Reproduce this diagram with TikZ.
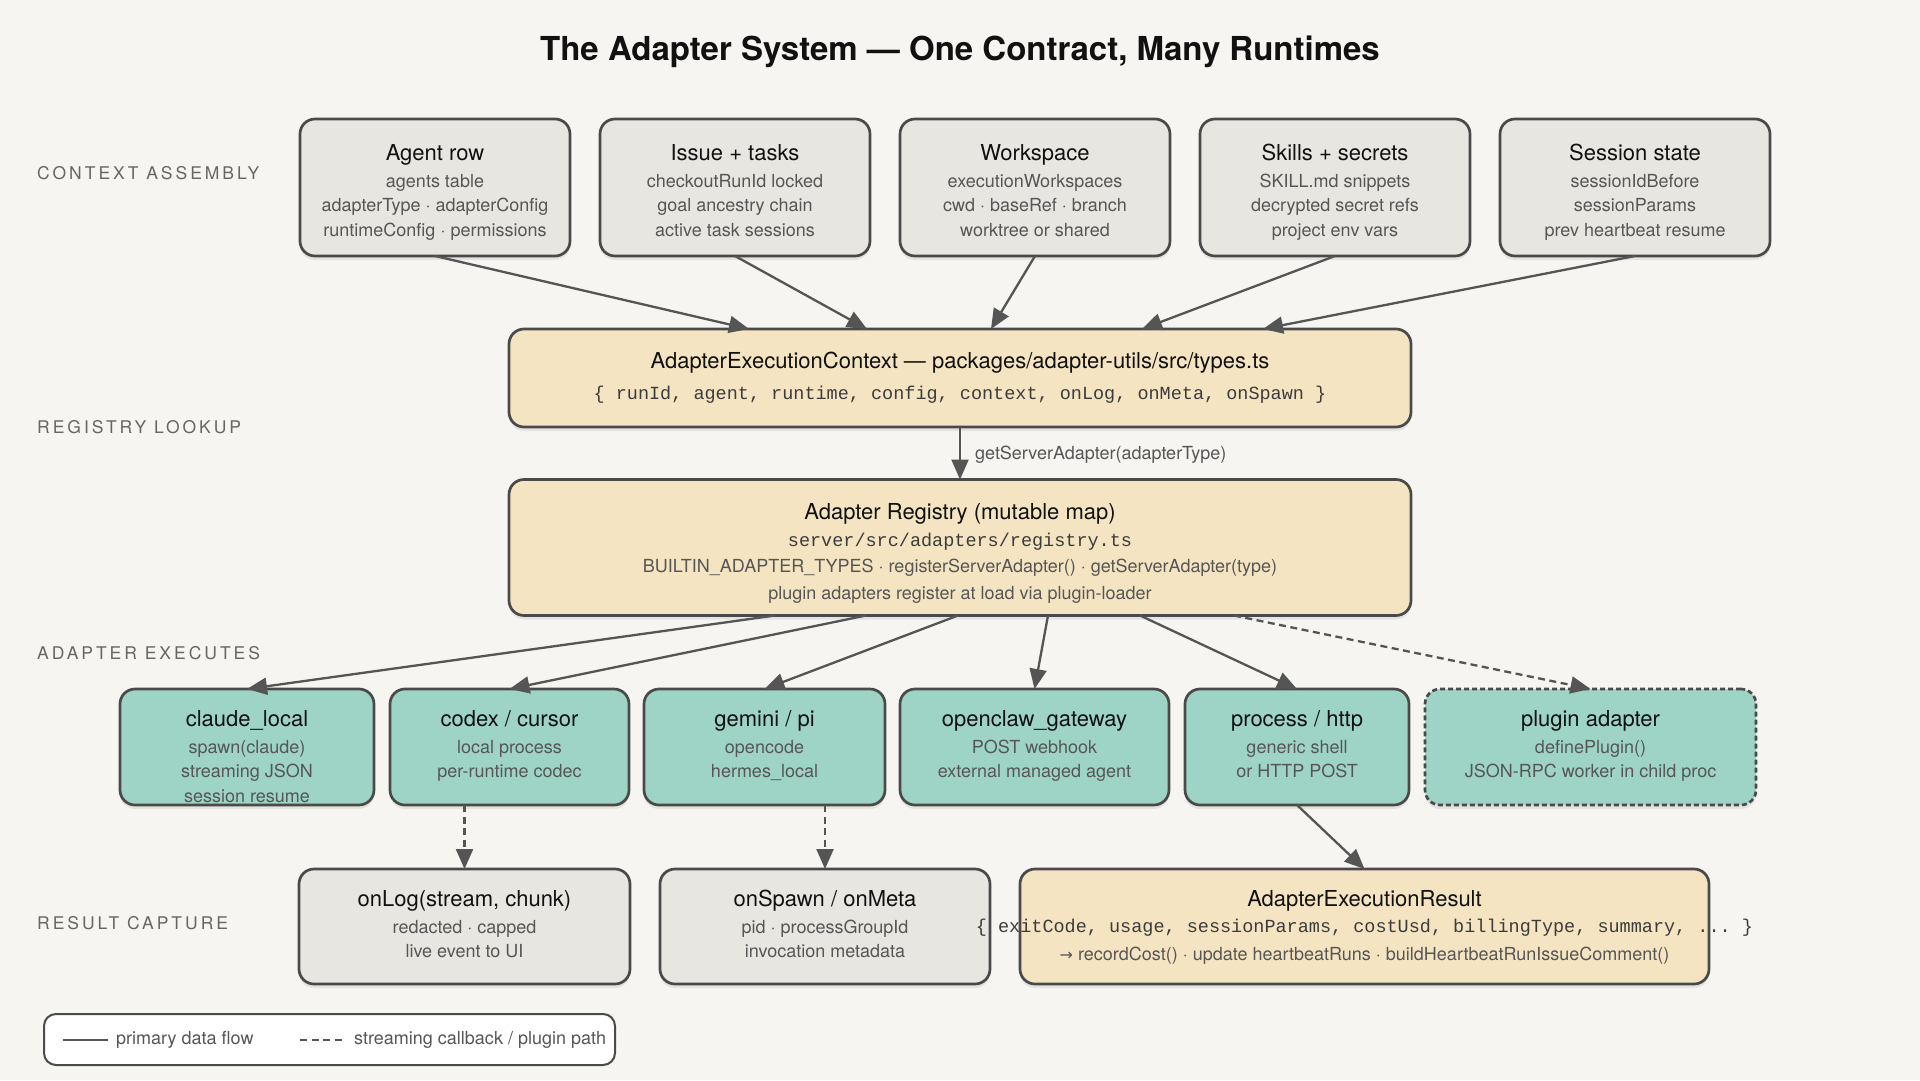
\documentclass[tikz,border=0pt]{standalone}
\usepackage{fontspec}
\setmainfont{TeX Gyre Heros}
\setmonofont{Liberation Mono}
\newfontfamily\capsfont[LetterSpace=17]{TeX Gyre Heros}
\newfontfamily\symfont{DejaVu Sans}
\usetikzlibrary{arrows.meta,shadows}
\definecolor{bgc}{HTML}{F6F5F1}
\definecolor{edgec}{HTML}{4A4A4A}
\definecolor{arrc}{HTML}{555555}
\definecolor{grayfill}{HTML}{E8E6E1}
\definecolor{tanfill}{HTML}{F5E4C2}
\definecolor{tealfill}{HTML}{9DD4C5}
\definecolor{subc}{HTML}{565656}
\definecolor{secc}{HTML}{666666}
\definecolor{titc}{HTML}{111111}
\definecolor{monoc}{HTML}{3C3C3C}
\newcommand\ttl[1]{{\fontsize{22}{24.5}\selectfont\color{titc}#1}}
\newcommand\mono[1]{{\fontsize{18.5}{24.5}\selectfont\ttfamily\color{monoc}#1}}
\begin{document}
\begin{tikzpicture}[x=1pt,y=-1pt,
  box/.style={draw=edgec, line width=2.7pt, rounded corners=15pt, inner sep=0pt, outer sep=0pt,
    drop shadow={shadow xshift=0pt, shadow yshift=-4pt, fill=black, opacity=0.07}},
  gbox/.style={box, fill=grayfill},
  tbox/.style={box, fill=tanfill},
  abox/.style={box, fill=tealfill},
  txt/.style={align=center, inner sep=0pt, font=\fontsize{18}{24.5}\selectfont, text=subc, anchor=base},
  sec/.style={anchor=base west, inner sep=0pt, font=\capsfont\fontsize{17.5}{20}\selectfont, text=secc},
  flow/.style={draw=arrc, line width=2.3pt, -{Triangle[length=20pt,width=17pt]}},
  dsh/.style={dash pattern=on 7pt off 4.5pt},
  lab/.style={inner sep=0pt, font=\fontsize{18}{20}\selectfont, text=subc}
]
\fill[bgc] (0,0) rectangle (1920,1080);
\useasboundingbox (0,0) rectangle (1920,1080);

% title
\node[anchor=base, inner sep=0pt, font=\fontsize{33}{36}\selectfont\bfseries, text=titc] (title) at (960,60)
  {The Adapter System — One Contract, Many Runtimes};

% section labels
\node[sec] (s1) at (37,179) {CONTEXT ASSEMBLY};
\node[sec] (s2) at (37,433) {REGISTRY LOOKUP};
\node[sec] (s3) at (37,659) {ADAPTER EXECUTES};
\node[sec] (s4) at (37,929) {RESULT CAPTURE};

% context assembly boxes (text anchored at the baseline of its last line)
\node[gbox, minimum width=270pt, minimum height=137pt] (agent) at (435,187.5) {};
\node[gbox, minimum width=270pt, minimum height=137pt] (issue) at (735,187.5) {};
\node[gbox, minimum width=270pt, minimum height=137pt] (wspace) at (1035,187.5) {};
\node[gbox, minimum width=270pt, minimum height=137pt] (skills) at (1335,187.5) {};
\node[gbox, minimum width=270pt, minimum height=137pt] (session) at (1635,187.5) {};
\node[txt] (agent-t) at (435,236) {\ttl{Agent row}\\[2.5pt]agents table\\adapterType · adapterConfig\\runtimeConfig · permissions};
\node[txt] (issue-t) at (735,236) {\ttl{Issue + tasks}\\[2.5pt]checkoutRunId locked\\goal ancestry chain\\active task sessions};
\node[txt] (wspace-t) at (1035,236) {\ttl{Workspace}\\[2.5pt]executionWorkspaces\\cwd · baseRef · branch\\worktree or shared};
\node[txt] (skills-t) at (1335,236) {\ttl{Skills + secrets}\\[2.5pt]SKILL.md snippets\\decrypted secret refs\\project env vars};
\node[txt] (session-t) at (1635,236) {\ttl{Session state}\\[2.5pt]sessionIdBefore\\sessionParams\\prev heartbeat resume};

% execution context
\node[tbox, minimum width=902pt, minimum height=98pt] (ctx) at (960,378) {};
\node[txt] (ctx-t) at (960,399) {\ttl{AdapterExecutionContext — packages/adapter-utils/src/types.ts}\\[6.5pt]\mono{\{ runId, agent, runtime, config, context, onLog, onMeta, onSpawn \}}};

% registry
\node[tbox, minimum width=902pt, minimum height=136pt] (reg) at (960,547.5) {};
\node[txt] (reg-t) at (960,599) {\ttl{Adapter Registry (mutable map)}\\[2.5pt]\mono{server/src/adapters/registry.ts}\\[1.5pt]BUILTIN\_ADAPTER\_TYPES · registerServerAdapter() · getServerAdapter(type)\\[2.5pt]plugin adapters register at load via plugin-loader};

% adapters
\node[abox, minimum width=254pt, minimum height=116pt] (claude) at (247,747) {};
\node[abox, minimum width=239pt, minimum height=116pt] (codex) at (509.5,747) {};
\node[abox, minimum width=241pt, minimum height=116pt] (gemini) at (764.5,747) {};
\node[abox, minimum width=269pt, minimum height=116pt] (openclaw) at (1034.5,747) {};
\node[abox, minimum width=224pt, minimum height=116pt] (process) at (1297,747) {};
\node[abox, minimum width=331pt, minimum height=116pt, dash pattern=on 5pt off 3pt] (plugin) at (1590.5,747) {};
\node[txt] (claude-t) at (247,802) {\ttl{claude\_local}\\[2.5pt]spawn(claude)\\streaming JSON\\session resume};
\node[txt] (codex-t) at (509.5,777.5) {\ttl{codex / cursor}\\[2.5pt]local process\\per-runtime codec};
\node[txt] (gemini-t) at (764.5,777.5) {\ttl{gemini / pi}\\[2.5pt]opencode\\hermes\_local};
\node[txt] (openclaw-t) at (1034.5,777.5) {\ttl{openclaw\_gateway}\\[2.5pt]POST webhook\\external managed agent};
\node[txt] (process-t) at (1297,777.5) {\ttl{process / http}\\[2.5pt]generic shell\\or HTTP POST};
\node[txt] (plugin-t) at (1590.5,777.5) {\ttl{plugin adapter}\\[2.5pt]definePlugin()\\JSON-RPC worker in child proc};

% result capture
\node[gbox, minimum width=331pt, minimum height=115pt] (onlog) at (464.5,926.5) {};
\node[gbox, minimum width=330pt, minimum height=115pt] (onspawn) at (825,926.5) {};
\node[tbox, minimum width=689pt, minimum height=115pt] (result) at (1364.5,926.5) {};
\node[txt] (onlog-t) at (464.5,957.5) {\ttl{onLog(stream, chunk)}\\[2.5pt]redacted · capped\\live event to UI};
\node[txt] (onspawn-t) at (825,957.5) {\ttl{onSpawn / onMeta}\\[2.5pt]pid · processGroupId\\invocation metadata};
\node[txt] (result-t) at (1364.5,960) {\ttl{AdapterExecutionResult}\\[1.5pt]\mono{\{ exitCode, usage, sessionParams, costUsd, billingType, summary, ... \}}\\[3.5pt]{\symfont\fontsize{16}{20}\selectfont →} recordCost() · update heartbeatRuns · buildHeartbeatRunIssueComment()};

% connectors: context assembly
\draw[flow] (agent.south) -- ([xshift=240pt]ctx.north west);
\draw[flow] (issue.south) -- ([xshift=358pt]ctx.north west);
\draw[flow] (wspace.south) -- ([xshift=482pt]ctx.north west);
\draw[flow] (skills.south) -- ([xshift=633pt]ctx.north west);
\draw[flow] (session.south) -- ([xshift=754pt]ctx.north west);

% registry lookup
\draw[flow] (ctx.south) -- (reg.north);
\node[lab, anchor=base west] (glab) at (975,459) {getServerAdapter(adapterType)};

% adapter dispatch
\draw[flow] ([xshift=266pt]reg.south west) -- (claude.north);
\draw[flow] ([xshift=357pt]reg.south west) -- (codex.north);
\draw[flow] ([xshift=449pt]reg.south west) -- (gemini.north);
\draw[flow] ([xshift=539pt]reg.south west) -- (openclaw.north);
\draw[flow] ([xshift=631pt]reg.south west) -- (process.north);
\draw[flow, dsh] ([xshift=725pt]reg.south west) -- (plugin.north);

% results
\draw[flow, dsh] (codex.south -| onlog.north) -- (onlog.north);
\draw[flow, dsh] (gemini.south -| onspawn.north) -- (onspawn.north);
\draw[flow] (process.south) -- (result.north);

% legend
\node[draw=edgec, fill=white, line width=2pt, rounded corners=12pt, inner sep=0pt, minimum width=571pt, minimum height=51pt] (legend) at (329.5,1039.5) {};
\coordinate (l1a) at (63,1040);
\coordinate (l1b) at (108,1040);
\coordinate (l2a) at (300,1040);
\coordinate (l2b) at (343,1040);
\draw[arrc, line width=2.4pt] (l1a) -- (l1b);
\draw[arrc, line width=2.4pt, dash pattern=on 7pt off 4.5pt] (l2a) -- (l2b);
\node[lab, anchor=west] (lg1) at (116,1040) {primary data flow};
\node[lab, anchor=west] (lg2) at (354,1040) {streaming callback / plugin path};
\end{tikzpicture}
\end{document}
